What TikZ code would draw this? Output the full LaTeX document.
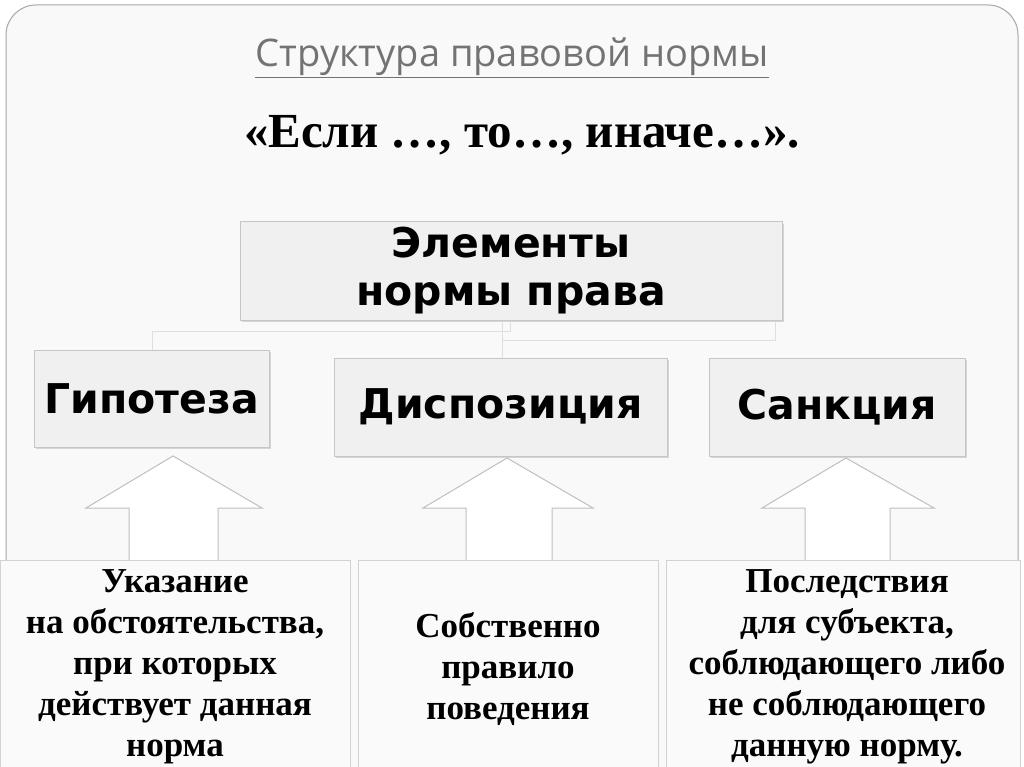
\documentclass[tikz,border=0pt]{standalone}
\usetikzlibrary{shadows}
\usepackage{fontspec}
\setmainfont{Liberation Serif}
\newfontfamily\boxfont{DejaVu Sans}
\newfontfamily\titlefont{Open Sans}
\begin{document}
\begin{tikzpicture}[x=1pt,y=-1pt,
  elbox/.style={draw=gray!45,fill=gray!12,line width=1pt,drop shadow={shadow xshift=2pt,shadow yshift=-2pt,fill=gray!60}},
  btext/.style={font=\boxfont\bfseries\fontsize{41}{48}\selectfont,align=center},
  lowbox/.style={draw=gray!35,fill=gray!4,line width=0.8pt},
  ltext/.style={font=\bfseries\fontsize{35}{41}\selectfont,align=center},
  uparrow/.style={draw=gray!50,fill=white,line width=1pt}]
\useasboundingbox (0,0) rectangle (1024,767);
\fill[white] (0,0) rectangle (1024,767);
\draw[gray!70,fill=gray!5,line width=1pt,rounded corners=30pt] (6,5) rectangle (1018,800);
\node (title) at (512,58) {\titlefont\fontsize{38}{44}\selectfont\color{gray!90!black}\underline{Структура правовой нормы}};
\node (rule) at (522,135) {\bfseries\fontsize{49}{56}\selectfont «Если …, то…, иначе…».};
% faint connectors
\draw[gray!25,line width=1pt] (152,350) |- (510,331) -- (510,322);
\draw[gray!25,line width=1pt] (502,358) |- (775,340) -- (775,322);
\draw[gray!25,line width=1pt] (502,340) -- (502,322);
\node[elbox,minimum width=542pt,minimum height=98pt] (top) at (511,271) {};
\node[btext] at (top) {Элементы\\нормы права};
\node[elbox,minimum width=235pt,minimum height=97pt] (hyp) at (151.5,398.5) {};
\node[btext] at (hyp) {Гипотеза};
\node[elbox,minimum width=333pt,minimum height=98pt] (disp) at (500.5,407) {};
\node[btext] at (disp) {Диспозиция};
\node[elbox,minimum width=256pt,minimum height=98pt] (sanc) at (837,407) {};
\node[btext] at (sanc) {Санкция};
% arrows
\draw[uparrow] (173,456) -- (262,508) -- (218,508) -- (218,562) -- (129,562) -- (129,508) -- (86,508) -- cycle;
\draw[uparrow] (507,458) -- (593,508) -- (552,508) -- (552,562) -- (466,562) -- (466,508) -- (423,508) -- cycle;
\draw[uparrow] (846,458) -- (934,508) -- (890,508) -- (890,562) -- (805,562) -- (805,508) -- (762,508) -- cycle;
% lower boxes
\draw[lowbox] (0,560) rectangle (350,770);
\draw[lowbox] (358,560) rectangle (658,770);
\draw[lowbox] (666,560) rectangle (1020,770);
\node[ltext] (t1) at (175,667) {Указание\\на обстоятельства,\\при которых\\действует данная\\норма};
\node[ltext] (t2) at (508,669) {Собственно\\правило\\поведения};
\node[ltext] (t3) at (847,667) {Последствия\\для субъекта,\\соблюдающего либо\\не соблюдающего\\данную норму.};
\end{tikzpicture}
\end{document}
